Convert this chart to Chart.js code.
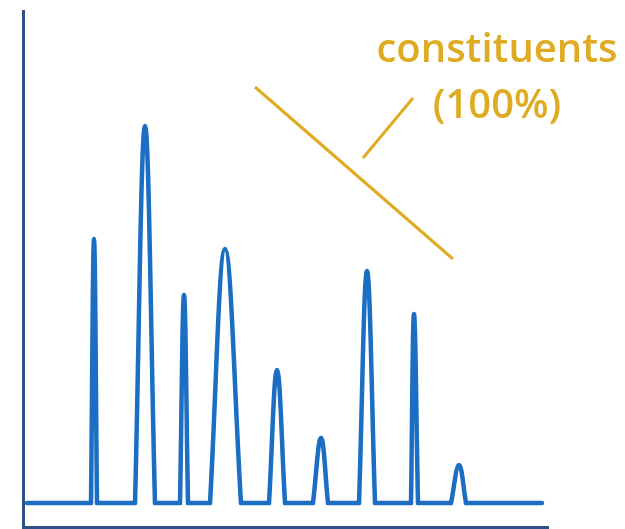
<!DOCTYPE html>
<html>
<head>
<meta charset="utf-8">
<script src="https://cdn.jsdelivr.net/npm/chart.js@4.4.0/dist/chart.umd.min.js"></script>
<style>
html,body{margin:0;padding:0;background:#fff;}
#wrap{width:625px;height:529px;}
</style>
</head>
<body>
<div id="wrap"><canvas id="c" width="625" height="529"></canvas></div>
<script>
// signal values (arbitrary units)
const baselineLevel = 24;
const baselineStart = 4;
const baselineEnd = 519;
const peakStart = [68, 112, 157, 187, 246, 290, 336, 388, 428];
const peakTop   = [71, 122, 161, 202, 254, 298, 344, 391, 436];
const peakEnd   = [74, 132, 165, 218, 262, 305, 352, 395, 443];
const peakHeight= [288, 401, 232, 278, 157, 89, 256, 213, 62];
// annotation
const annoLong  = [{x:232, y:440}, {x:430, y:268}];
const annoShort = [{x:340, y:369}, {x:390, y:429}];
const annoText  = ["constituents", "(100%)"];
const annoTextPos = [{x:474, y:465}, {x:474, y:409}];

const BLUE = '#1b6ec2';
const GOLD = '#dfab22';
const NAVY = '#2f4f86';

// baseline segments between peaks (null = gap under peaks)
const basePts = [{x: baselineStart, y: baselineLevel}];
for (let i = 0; i < peakStart.length; i++) {
  basePts.push({x: peakStart[i], y: baselineLevel});
  basePts.push({x: (peakStart[i] + peakEnd[i]) / 2, y: null});
  basePts.push({x: peakEnd[i], y: baselineLevel});
}
basePts.push({x: baselineEnd, y: baselineLevel});

const datasets = [{
  data: basePts, borderColor: BLUE, borderWidth: 4.5, tension: 0,
  pointRadius: 0, spanGaps: false, borderCapStyle: 'round', borderJoinStyle: 'round'
}];
for (let i = 0; i < peakStart.length; i++) {
  datasets.push({
    data: [
      {x: peakStart[i], y: baselineLevel},
      {x: peakTop[i], y: peakHeight[i]},
      {x: peakEnd[i], y: baselineLevel}
    ],
    borderColor: BLUE, borderWidth: 4.5, tension: 0.4, pointRadius: 0,
    borderCapStyle: 'round', borderJoinStyle: 'round'
  });
}
datasets.push({data: annoLong, borderColor: GOLD, borderWidth: 3, pointRadius: 0, tension: 0});
datasets.push({data: annoShort, borderColor: GOLD, borderWidth: 3, pointRadius: 0, tension: 0});

const textPlugin = {
  id: 'annoText',
  afterDatasetsDraw(chart) {
    const ctx = chart.ctx, xs = chart.scales.x, ys = chart.scales.y;
    ctx.save();
    ctx.fillStyle = GOLD;
    ctx.font = '600 40px "Open Sans"';
    ctx.textAlign = 'center';
    ctx.textBaseline = 'alphabetic';
    annoText.forEach((t, i) => {
      ctx.fillText(t, xs.getPixelForValue(annoTextPos[i].x), ys.getPixelForValue(annoTextPos[i].y));
    });
    ctx.restore();
  }
};

new Chart(document.getElementById('c'), {
  type: 'line',
  data: {datasets},
  options: {
    responsive: false,
    animation: false,
    clip: false,
    layout: {padding: {left: 23, right: 77, top: 11, bottom: 2}},
    plugins: {legend: {display: false}, tooltip: {enabled: false}},
    scales: {
      x: {type: 'linear', min: 0, max: 525,
          afterFit(s) { s.height = 0; },
          grid: {display: false}, ticks: {display: false},
          border: {display: true, color: NAVY, width: 3}},
      y: {type: 'linear', min: 0, max: 516,
          afterFit(s) { s.width = 0; },
          grid: {display: false}, ticks: {display: false},
          border: {display: true, color: NAVY, width: 3}}
    }
  },
  plugins: [textPlugin]
});
</script>
</body>
</html>
